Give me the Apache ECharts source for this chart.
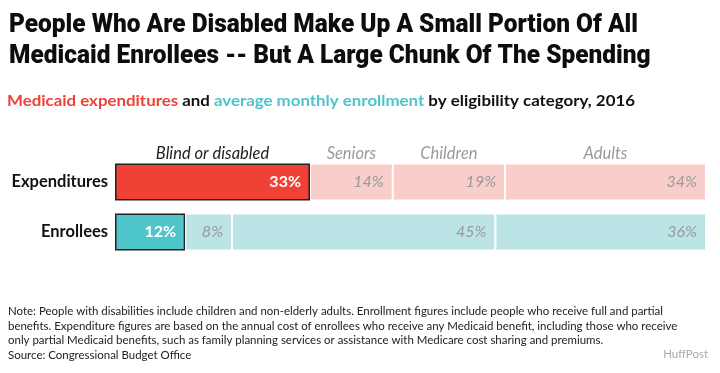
<!DOCTYPE html>
<html><head><meta charset="utf-8">
<script src="https://cdn.jsdelivr.net/npm/echarts@6/dist/echarts.min.js"></script>
<style>html,body{margin:0;padding:0;background:#fff}#c{width:720px;height:373px}</style>
</head><body><div id="c"></div>
<script>
const categories = ['Blind or disabled', 'Seniors', 'Children', 'Adults'];
const rows = ['Expenditures', 'Enrollees'];
const expenditures = [33, 14, 19, 34];
const enrollees = [12, 8, 45, 36];

const titleLines = [
  'People Who Are Disabled Make Up A Small Portion Of All',
  'Medicaid Enrollees -- But A Large Chunk Of The Spending'
];
const subtitleParts = [
  ['r', 'Medicaid expenditures'], ['k', ' and '],
  ['t', 'average monthly enrollment'], ['k', ' by eligibility category, 2016']
];
const noteLines = [
  'Note: People with disabilities include children and non-elderly adults. Enrollment figures include people who receive full and partial',
  'benefits. Expenditure figures are based on the annual cost of enrollees who receive any Medicaid benefit, including those who receive',
  'only partial Medicaid benefits, such as family planning services or assistance with Medicare cost sharing and premiums.',
  'Source: Congressional Budget Office'
];

const darkColors = ['#EF4136', '#4EC4CB'];
const lightColors = ['#F9CDC9', '#BCE3E6'];
const sans = 'Lato, sans-serif';

const ctx = document.createElement('canvas').getContext('2d');
function measure(text, font) { ctx.font = font; return ctx.measureText(text).width; }

const titleFont = '900 25px Roboto';
const titleScale = 629 / measure(titleLines[0], titleFont);
const subFont = 'bold 16px Lato';
const subScale = 628 / measure(subtitleParts.map(p => p[1]).join(''), subFont);
const noteFont = 'normal 12px Lato';
const noteScale = 655 / measure(noteLines[0], noteFont);

const graphics = [];
titleLines.forEach((t, i) => {
  graphics.push({type: 'text', x: 9, y: 25.5 + i * 31, scaleX: titleScale,
    style: {text: t, font: titleFont, fill: '#0d0d0d', verticalAlign: 'middle', align: 'left'}});
});
graphics.push({type: 'text', x: 7, y: 101, scaleX: subScale,
  style: {
    text: subtitleParts.map(p => '{' + p[0] + '|' + p[1] + '}').join(''),
    verticalAlign: 'middle', align: 'left',
    rich: {
      r: {font: subFont, fill: '#EF4136'},
      t: {font: subFont, fill: '#4EC4CB'},
      k: {font: subFont, fill: '#111'}
    }
  }});
noteLines.forEach((t, i) => {
  graphics.push({type: 'text', x: 8, y: 311.5 + i * 14.4, scaleX: noteScale,
    style: {text: t, font: noteFont, fill: '#222', verticalAlign: 'middle', align: 'left'}});
});
graphics.push({type: 'text', x: 708, y: 354.5, scaleX: noteScale,
  style: {text: 'HuffPost', font: noteFont, fill: '#aaa', verticalAlign: 'middle', align: 'right'}});

const chart = echarts.init(document.getElementById('c'), null, {renderer: 'canvas'});
const grids = [
  {left: 115, right: 14, top: 163.5, height: 37},
  {left: 115, right: 14, top: 213.5, height: 37}
];
const sum = a => a.reduce((s, v) => s + v, 0);
const datasets = [expenditures, enrollees];

const series = [];
datasets.forEach((vals, r) => {
  vals.forEach((v, i) => {
    const first = i === 0;
    series.push({
      type: 'bar', xAxisIndex: r, yAxisIndex: r, stack: 's' + r,
      barWidth: 37, barGap: '-100%',
      data: [v],
      itemStyle: first
        ? {color: darkColors[r], borderColor: '#222', borderWidth: 1.5}
        : {color: lightColors[r], borderColor: '#fff', borderWidth: 1},
      label: {
        show: true, position: 'insideRight', distance: 9,
        formatter: v + '%',
        fontFamily: sans, fontSize: 16,
        fontWeight: first ? 'bold' : 'normal',
        fontStyle: first ? 'normal' : 'italic',
        color: first ? '#fff' : '#9a9a9a'
      },
      silent: true, animation: false
    });
  });
});
expenditures.forEach((v, i) => {
  series.push({
    type: 'bar', xAxisIndex: 0, yAxisIndex: 0, stack: 'hdr',
    barWidth: 37, barGap: '-100%',
    data: [v],
    itemStyle: {color: 'rgba(0,0,0,0)'},
    label: {
      show: true, position: 'top', distance: 1,
      formatter: categories[i],
      fontFamily: sans, fontSize: 16.5, fontStyle: 'italic',
      color: i === 0 ? '#222' : '#9a9a9a'
    },
    silent: true, animation: false
  });
});

chart.setOption({
  backgroundColor: '#fff',
  animation: false,
  graphic: graphics,
  grid: grids,
  xAxis: datasets.map((vals, r) => ({
    type: 'value', gridIndex: r, min: 0, max: sum(vals), show: false
  })),
  yAxis: datasets.map((vals, r) => ({
    type: 'category', gridIndex: r, data: [rows[r]],
    axisLine: {show: false}, axisTick: {show: false},
    axisLabel: {margin: 7, fontFamily: sans, fontSize: 16.5, fontWeight: 'bold', color: '#111'}
  })),
  series: series
});
</script>
</body></html>
